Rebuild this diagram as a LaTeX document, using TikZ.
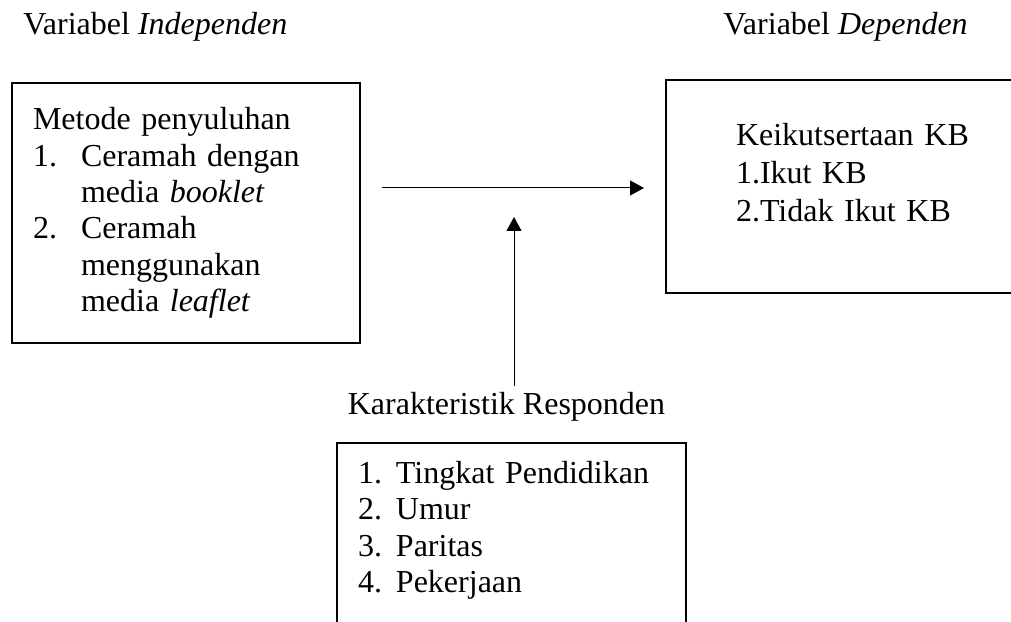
\documentclass[tikz,border=0pt]{standalone}
\usepackage{fontspec}
\setmainfont{Liberation Serif}
\usepackage{tikz}
\usetikzlibrary{arrows.meta,positioning}

\newcommand{\numitem}[2][24pt]{\makebox[#1][l]{#2}}

\begin{document}
\begin{tikzpicture}[x=0.5pt, y=0.5pt, font=\fontsize{16}{18.2}\selectfont,
  varbox/.style={draw, line width=1pt, align=left},
  varlabel/.style={inner sep=0pt, anchor=base west},
  flow/.style={line width=0.5pt, -{Triangle[length=7pt, width=7.5pt]}}]
\useasboundingbox (0,0) rectangle (1011,621);
\clip (0,0) rectangle (1011,621);

% headings
\node[varlabel] (indlabel) at (23,586) {Variabel \textit{Independen}};
\node[varlabel] (deplabel) at (723,586) {Variabel \textit{Dependen}};

% independent variable
\node[varbox, text width=153pt, inner xsep=10.5pt, minimum height=130pt] (metode) at (186,408) {Metode penyuluhan\\
\numitem{1.}Ceramah dengan\\
\numitem{}media \textit{booklet}\\
\numitem{2.}Ceramah\\
\numitem{}menggunakan\\
\numitem{}media \textit{leaflet}};

% dependent variable
\node[varbox, anchor=west, text width=150pt, inner xsep=35pt, minimum height=106.5pt] (kb) at (665,434.5) {Keikutsertaan KB\\[1pt]
1.Ikut KB\\[1pt]
2.Tidak Ikut KB\rule[-14pt]{0pt}{0pt}};

% respondent characteristics
\node[anchor=base] (krtlabel) at (506.5,206) {Karakteristik Responden};
\node[varbox, anchor=north, text width=153.5pt, inner xsep=10.5pt, inner ysep=9pt] (krt) at (511.5,179) {\numitem[19pt]{1.}Tingkat Pendidikan\\
\numitem[19pt]{2.}Umur\\
\numitem[19pt]{3.}Paritas\\
\numitem[19pt]{4.}Pekerjaan\rule[-20pt]{0pt}{0pt}};

\coordinate (hstart) at (382,433);
\coordinate (hend) at (644,433);
\coordinate (vend) at (514,404);
\draw[flow] (hstart) -- (hend);
\draw[flow] (krtlabel.north -| vend) -- (vend);
\end{tikzpicture}
\end{document}
